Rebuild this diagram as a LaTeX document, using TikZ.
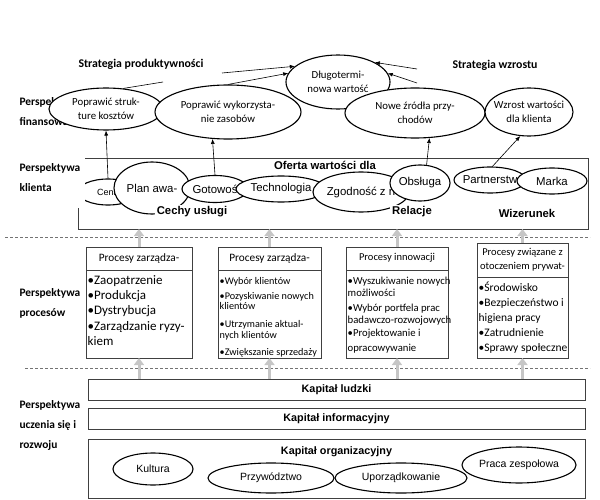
\documentclass[tikz,border=0pt]{standalone}
\usepackage{fontspec}
\setmainfont{Carlito}
\newfontfamily\arialf{Liberation Sans}
\usepackage{tikz}
\usetikzlibrary{shapes.geometric}
\usetikzlibrary{calc}
\usetikzlibrary{arrows.meta}
\usetikzlibrary{positioning}

\tikzset{
	ell/.style={ellipse, draw, line width=1.1pt, fill=white, inner sep=0pt, align=center, font=\fontsize{10.8}{14.5}\selectfont},
	cli/.style={ellipse, draw, line width=1.1pt, fill=white, inner sep=0pt, font=\arialf\fontsize{11.4}{13}\selectfont},
	bell/.style={ellipse, draw, line width=1.1pt, fill=white, inner sep=0pt, font=\arialf\fontsize{10.5}{12}\selectfont},
	persp/.style={anchor=west, align=left, font=\fontsize{11.4}{20}\selectfont\bfseries},
	strat/.style={font=\fontsize{11.8}{13}\selectfont\bfseries},
	bold/.style={fill=white, inner sep=2pt, font=\arialf\fontsize{11.3}{13}\selectfont\bfseries},
	prbox/.style={draw=black!75, line width=0.7pt, outer sep=0pt, inner sep=0pt},
	hdr/.style={align=center, font=\fontsize{10.5}{14}\selectfont},
	items/.style={anchor=north west, align=left, inner sep=0pt},
	capbox/.style={draw=black!75, line width=0.7pt, outer sep=0pt, font=\arialf\fontsize{10.8}{12}\selectfont\bfseries},
	blk/.style={-{Latex[length=5pt,width=4pt]}, line width=0.6pt},
	grarr/.style={-{Triangle[length=7pt,width=10pt]}, line width=3pt, draw=gray!45},
	dsh/.style={draw=black!55, line width=0.6pt, dash pattern=on 3pt off 2pt}
}

\begin{document}
\begin{tikzpicture}[x=1pt, y=-1pt]

	\useasboundingbox (0,0) rectangle (600,500);

	% perspektywy
	\node[persp] (pfin) at (16,112) {Perspektywa\\finansowa};
	\node[persp] (pkli) at (16,178) {Perspektywa\\klienta};
	\node[persp] (ppro) at (16,303) {Perspektywa\\procesów};
	\node[persp] (pucz) at (16,425) {Perspektywa\\uczenia się i\\rozwoju};

	% strategie
	\node[strat] (sprod) at (141,64) {Strategia produktywności};
	\node[strat] (swzr) at (495,65) {Strategia wzrostu};

	% perspektywa finansowa
	\node[ell, minimum width=104, minimum height=54] (dlug) at (338,82) {Długotermi-\\nowa wartość};
	\node[ell, minimum width=114, minimum height=42] (strk) at (106,109) {Poprawić struk-\\ture kosztów};
	\node[ell, minimum width=146, minimum height=54] (wyk) at (228,112) {Poprawić wykorzysta-\\nie zasobów};
	\node[ell, minimum width=140, minimum height=50] (nowe) at (415,113) {Nowe źródła przy-\\chodów};
	\node[ell, minimum width=88, minimum height=48, inner xsep=-9pt] (wzr) at (529,112) {Wzrost wartości\\dla klienta};

	\coordinate (gapA) at (163,82);
	\coordinate (gapB) at (222,73);
	\coordinate (wz1) at (417,69);
	\coordinate (wz2) at (417,83);
	\draw[line width=0.6pt] (strk.50) -- (gapA);
	\draw[blk] (gapB) -- (dlug.160);
	\draw[blk] (wyk.north) -- (dlug.170);
	\draw[blk] (wz1) -- (dlug.28);
	\draw[blk] (wz2) -- (dlug.10);

	% perspektywa klienta
	\node[minimum width=510, minimum height=71, inner sep=0pt, outer sep=0pt] (oferta) at (333,193.5) {};
	\draw[draw=black!75, line width=0.7pt] ([xshift=7pt]oferta.north west) -- (oferta.north east)
		-- (oferta.south east) -- (oferta.south west) -- ([yshift=21pt]oferta.south west);
	\node[bold] (ofl) at (325,165) {Oferta wartości dla};

	\begin{scope}
		\clip (85,170) rectangle (140,215);
		\node[cli, minimum width=60, minimum height=26, font=\arialf\fontsize{9}{10}\selectfont] (cena) at (108,192) {Cena};
	\end{scope}
	\node[cli, minimum width=76, minimum height=52] (plan) at (152,188) {Plan awa-};
	\node[cli, minimum width=66, minimum height=27, inner xsep=-3pt] (got) at (215,189) {Gotowoś};
	\node[cli, minimum width=90, minimum height=26, inner xsep=-4pt] (tech) at (281,189) {Technologia};
	\node[cli, minimum width=96, minimum height=40, inner xsep=-6pt] (zgod) at (361,192) {Zgodność z n};
	\node[cli, minimum width=60, minimum height=36] (obs) at (420,183) {Obsługa};
	\node[cli, minimum width=72, minimum height=26, inner xsep=-4pt] (part) at (490,180) {Partnerstw};
	\node[cli, minimum width=70, minimum height=26] (marka) at (552,181) {Marka};

	\node[bold] (cechy) at (192,212) {Cechy usługi};
	\node[bold] (relacje) at (412,212) {Relacje};
	\node[bold] (wizer) at (527,213) {Wizerunek};

	\draw[blk] (cena.north) -- (strk.south);
	\draw[blk] (got.north) -- (wyk.240);
	\draw[blk] (obs.70) -- (nowe.300);
	\draw[blk] (part.80) -- (wzr.250);

	% separatory
	\draw[dsh] (5,237) -- (590,237);
	\draw[dsh] (25,368) -- (590,368);

	% perspektywa procesow
	\node[prbox, minimum width=106, minimum height=111] (p1) at (139,302.5) {};
	\node[prbox, minimum width=103, minimum height=111] (p2) at (269.5,302.5) {};
	\node[prbox, minimum width=102, minimum height=111] (p3) at (397,302.5) {};
	\node[prbox, minimum width=91, minimum height=115] (p4) at (522.5,300.5) {};

	\foreach \p/\h in {p1/23, p2/23, p3/23, p4/34}
		\draw[draw=black!75, line width=0.7pt] ([yshift=-\h pt]\p.north west) -- ([yshift=-\h pt]\p.north east);

	\node[hdr, font=\fontsize{11.3}{14}\selectfont] (p1h) at ([yshift=-11pt]p1.north) {Procesy zarządza-};
	\node[hdr, font=\fontsize{11.3}{14}\selectfont] (p2h) at ([yshift=-11pt]p2.north) {Procesy zarządza-};
	\node[hdr] (p3h) at ([yshift=-11pt]p3.north) {Procesy innowacji};
	\node[hdr] (p4h) at ([yshift=-17pt]p4.north) {Procesy związane z\\otoczeniem prywat-};

	\node[items, font=\fontsize{13}{15.3}\selectfont] (p1i) at ([xshift=1.5pt,yshift=-28pt]p1.north west)
		{•Zaopatrzenie\\•Produkcja\\•Dystrybucja\\•Zarządzanie ryzy-\\kiem};
	\node[items, font=\fontsize{10.2}{10.5}\selectfont] (p2i) at ([xshift=1.5pt,yshift=-30pt]p2.north west)
		{•Wybór klientów\\[4.5pt]•Pozyskiwanie nowych\\klientów\\[7.5pt]•Utrzymanie aktual-\\nych klientów\\[6.5pt]•Zwiększanie sprzedaży};
	\node[items, font=\fontsize{10.7}{12}\selectfont] (p3i) at ([xshift=1.5pt,yshift=-30pt]p3.north west)
		{•Wyszukiwanie nowych\\możliwości\\[3pt]•Wybór portfela prac\\badawczo-rozwojowych\\[1pt]•Projektowanie i\\[3pt]opracowywanie};
	\node[items, font=\fontsize{11.5}{15}\selectfont] (p4i) at ([xshift=1.5pt,yshift=-39pt]p4.north west)
		{•Środowisko\\•Bezpieczeństwo i\\higiena pracy\\•Zatrudnienie\\•Sprawy społeczne};

	% perspektywa uczenia sie
	\node[capbox, minimum width=497, minimum height=21] (kl) at (336.5,389.5) {Kapitał ludzki};
	\node[capbox, minimum width=497, minimum height=21] (ki) at (336.5,418.5) {Kapitał informacyjny};
	\node[capbox, minimum width=497, minimum height=59] (ko) at (336.5,468.5) {};
	\node[bold, fill=none, font=\arialf\fontsize{10.8}{12}\selectfont\bfseries] (kol) at ([yshift=-13pt]ko.north) {Kapitał organizacyjny};

	\node[bell, minimum width=80, minimum height=32] (kult) at (153,469) {Kultura};
	\node[bell, minimum width=126, minimum height=30] (przyw) at (271,478) {Przywództwo};
	\node[bell, minimum width=132, minimum height=30] (uporz) at (401,478) {Uporządkowanie};
	\node[bell, minimum width=114, minimum height=36] (praca) at (519,465) {Praca zespołowa};

	% strzalki
	\foreach \p in {p1, p2, p3, p4}
		{
			\draw[grarr] (\p.north) -- (\p.north |- oferta.south);
			\draw[grarr] (\p.south |- kl.north) -- (\p.south);
		}

\end{tikzpicture}
\end{document}
